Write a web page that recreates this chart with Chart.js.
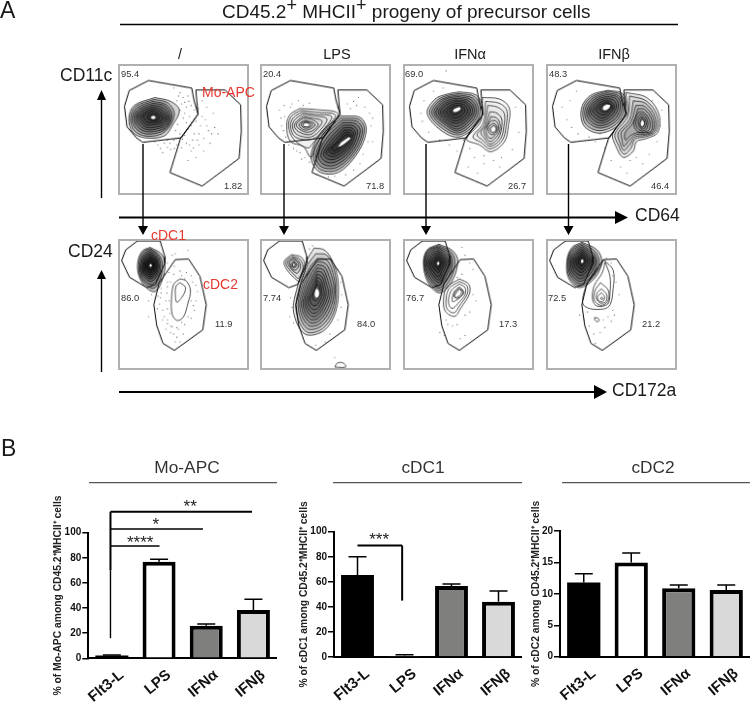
<!DOCTYPE html>
<html>
<head>
<meta charset="utf-8">
<script src="https://cdn.jsdelivr.net/npm/chart.js@4/dist/chart.umd.js"></script>
<style>
html, body { margin: 0; padding: 0; background: #fff; }
body { position: relative; width: 750px; height: 702px; overflow: hidden; font-family: "Liberation Sans", Arial, sans-serif; color: #1a1a1a; }
canvas { position: absolute; }
canvas.flow { border: 2px solid #b0b0b0; }
svg { position: absolute; left: 0; top: 0; pointer-events: none; }
.t { position: absolute; white-space: nowrap; line-height: 1; transform: translateY(-50%); }
.c { transform: translate(-50%, -50%); }
.stat { font-size: 9.3px; color: #333; }
.red { color: #e5392f; font-size: 14px; }
.big { font-size: 17.5px; }
.cond { font-size: 14.5px; }
.sec { font-size: 17.3px; color: #333; }
sup { font-size: 0.95em; line-height: 0; vertical-align: 0.38em; }
</style>
</head>
<body>

<canvas id="t1" class="flow" width="131" height="131" style="left:118px;top:64px"></canvas>
<canvas id="t2" class="flow" width="131" height="131" style="left:260px;top:64px"></canvas>
<canvas id="t3" class="flow" width="131" height="131" style="left:403px;top:64px"></canvas>
<canvas id="t4" class="flow" width="131" height="131" style="left:546px;top:64px"></canvas>
<canvas id="b1" class="flow" width="131" height="131" style="left:118px;top:239px"></canvas>
<canvas id="b2" class="flow" width="131" height="131" style="left:260px;top:239px"></canvas>
<canvas id="b3" class="flow" width="131" height="131" style="left:403px;top:239px"></canvas>
<canvas id="b4" class="flow" width="131" height="131" style="left:546px;top:239px"></canvas>

<canvas id="barMoApc" width="237" height="222" style="left:40px;top:480px"></canvas>
<canvas id="barCdc1" width="232" height="222" style="left:290px;top:480px"></canvas>
<canvas id="barCdc2" width="228" height="222" style="left:522px;top:480px"></canvas>

<svg width="750" height="702">
  <g stroke="#000" fill="none">
    <path d="M120 24.5H678" stroke-width="1.4"/>
    <path d="M119 217.5H616" stroke-width="2.2"/>
    <path d="M119 392H596" stroke-width="2"/>
    <path d="M101.5 198V100" stroke-width="1.4"/>
    <path d="M101.5 372V278" stroke-width="1.4"/>
    <path d="M143 144V228M284 144V228M426 144V228M568.5 144V228" stroke-width="1.4"/>
    <path d="M89 482.7H277M333 482.7H522M562 482.7H750" stroke="#555" stroke-width="1.2"/>
  </g>
  <g fill="#000">
    <path d="M615 211L628 217.5L615 224Z"/>
    <path d="M594 385L607 392L594 399Z"/>
    <path d="M97 100L101.5 90L106 100Z"/>
    <path d="M97 279L101.5 270L106 279Z"/>
    <path d="M138 226L143 235L148 226ZM279 226L284 235L289 226ZM421 226L426 235L431 226ZM563.5 226L568.5 235L573.5 226Z"/>
  </g>
</svg>

<div class="t" style="left:0;top:10px;font-size:23px">A</div>
<div class="t" style="left:222px;top:11px;font-size:19px">CD45.2<sup>+</sup> MHCII<sup>+</sup> progeny of precursor cells</div>
<div class="t c cond" style="left:180px;top:54px">/</div>
<div class="t c cond" style="left:337px;top:54px">LPS</div>
<div class="t c cond" style="left:470px;top:54px">IFNα</div>
<div class="t c cond" style="left:614px;top:54px">IFNβ</div>
<div class="t big" style="left:60px;top:76px">CD11c</div>
<div class="t big" style="left:68px;top:252px">CD24</div>
<div class="t big" style="left:635px;top:216px">CD64</div>
<div class="t big" style="left:612px;top:391px">CD172a</div>
<div class="t red" style="left:202px;top:92px">Mo-APC</div>
<div class="t red" style="left:151px;top:235px">cDC1</div>
<div class="t red" style="left:203px;top:284px">cDC2</div>

<div class="t stat" style="left:121px;top:75px">95.4</div>
<div class="t stat" style="left:263px;top:75px">20.4</div>
<div class="t stat" style="left:405px;top:75px">69.0</div>
<div class="t stat" style="left:549px;top:75px">48.3</div>
<div class="t stat" style="left:224px;top:187px">1.82</div>
<div class="t stat" style="left:366px;top:187px">71.8</div>
<div class="t stat" style="left:508px;top:187px">26.7</div>
<div class="t stat" style="left:651px;top:187px">46.4</div>
<div class="t stat" style="left:121px;top:299px">86.0</div>
<div class="t stat" style="left:263px;top:299px">7.74</div>
<div class="t stat" style="left:406px;top:299px">76.7</div>
<div class="t stat" style="left:548px;top:299px">72.5</div>
<div class="t stat" style="left:215px;top:325px">11.9</div>
<div class="t stat" style="left:357px;top:325px">84.0</div>
<div class="t stat" style="left:499px;top:325px">17.3</div>
<div class="t stat" style="left:642px;top:325px">21.2</div>

<div class="t" style="left:1px;top:448px;font-size:23px">B</div>
<div class="t c sec" style="left:187px;top:468px">Mo-APC</div>
<div class="t c sec" style="left:423px;top:468px">cDC1</div>
<div class="t c sec" style="left:653px;top:468px">cDC2</div>

<script>
// bar panels
const conditions = ['Flt3-L', 'LPS', 'IFNα', 'IFNβ'];
const barFills = ['#000000', '#ffffff', '#7f7f7d', '#d9d9d9'];
const moApcValues = [2.2, 76.8, 25.9, 38.5];
const moApcErrTop = [2.6, 78.8, 27.3, 47];
const cdc1Values = [65.4, 1, 56.7, 44];
const cdc1ErrTop = [80, 1.8, 58.3, 52.7];
const cdc2Values = [11.8, 15, 10.9, 10.6];
const cdc2ErrTop = [13.2, 16.5, 11.4, 11.4];
const moApcTicks = [0, 20, 40, 60, 80, 100];
const cdc1Ticks = [0, 20, 40, 60, 80, 100];
const cdc2Ticks = [0, 5, 10, 15, 20];

// [cat0, val0, cat1, val1, lineWidth]
const moApcBrackets = [
  [-0.03, 116.7, 2.97, 116.7, 2],
  [-0.03, 103, 1.93, 103, 1.6],
  [-0.03, 89.4, 1.01, 89.4, 1.6],
  [-0.03, 116.7, -0.03, 70, 2],
  [-0.03, 70, -0.03, 16, 1.4]
];
const cdc1Brackets = [
  [0, 89, 0.95, 89, 2],
  [0.95, 89, 0.95, 45, 2]
];
const moApcStars = [[1.66, 120.5, '**'], [0.93, 106, '*'], [0.6, 91.5, '****']];
const cdc1Stars = [[0.46, 93.5, '***']];

// flow gates, shared by the panels of one row, units
const gateCd11cHigh = [90,46, 227,70, 234,108, 247,153, 194,228, 72,242, 52,228, 22,193, 14,128, 29,78];
const gateCd64High = [240,76, 332,76, 382,123, 384,208, 377,293, 260,381, 158,338, 192,228, 247,153];
const gateCd24High = [55,0, 127,0, 142,50, 142,70, 112,138, 85,148, 30,115, 5,62, 18,28];
const gateCd172High = [175,59, 217,57, 253,112, 273,202, 262,282, 172,347, 136,325, 116,268, 107,202, 123,135];

// contours, outer to inner
const ringsCtrlTop = [
  [110,100, 160,112, 188,140, 165,190, 140,222, 80,228, 40,210, 28,165, 45,125],
  [108,106, 150,116, 172,150, 155,195, 125,218, 80,222, 45,205, 33,165, 50,128],
  [105,112, 145,122, 165,155, 150,195, 120,212, 80,215, 50,198, 38,165, 55,132],
  [105,118, 140,126, 160,158, 148,192, 118,206, 82,208, 55,192, 44,163, 60,136],
  [105,124, 135,132, 155,160, 145,188, 115,200, 85,202, 60,186, 50,162, 65,140],
  [104,130, 130,138, 150,162, 140,184, 112,194, 85,195, 66,180, 56,160, 70,144],
  [103,136, 125,144, 145,164, 133,180, 108,186, 85,187, 72,175, 64,160, 76,148],
  [102,142, 120,150, 137,165, 125,176, 105,179, 88,179, 78,170, 72,158, 82,152],
  [103,150, 115,155, 125,165, 115,172, 102,173, 92,170, 86,163, 90,156]
];
const coresCtrlTop = [[105,158, 112,161, 110,167, 102,168, 98,163]];
const ringsLpsTopLeft = [
  [118,135, 170,138, 240,150, 215,190, 170,250, 155,290, 130,255, 90,240, 78,190, 88,155],
  [122,141, 170,146, 232,155, 208,192, 165,240, 145,260, 100,232, 84,190, 94,158],
  [125,147, 168,153, 220,160, 200,195, 160,232, 105,225, 90,190, 100,163],
  [128,153, 165,158, 205,167, 190,197, 155,225, 110,217, 96,190, 106,168],
  [130,160, 160,165, 190,175, 175,200, 150,218, 115,208, 102,190, 112,173],
  [132,165, 158,170, 178,185, 162,204, 140,210, 118,200, 108,188, 116,175],
  [135,172, 155,177, 168,187, 152,200, 135,203, 120,194, 118,183],
  [138,176, 152,180, 160,187, 148,196, 132,196, 124,188, 126,180],
  [140,179, 150,183, 152,190, 140,193, 130,190, 130,183]
];
const ringsLpsTopRight = [
  [250,158, 312,164, 330,205, 300,280, 240,338, 180,335, 155,285, 188,210],
  [250,165, 308,170, 324,205, 295,278, 238,330, 184,328, 163,285, 194,215],
  [252,172, 302,176, 318,207, 290,275, 236,322, 188,320, 170,285, 200,220],
  [254,180, 296,183, 311,208, 285,272, 234,314, 194,312, 178,283, 207,225],
  [256,188, 290,190, 303,210, 280,268, 232,305, 200,303, 186,281, 214,230],
  [258,196, 285,197, 296,212, 275,264, 230,296, 206,294, 194,278, 221,234],
  [260,203, 281,204, 290,215, 270,260, 228,288, 212,285, 202,274, 228,238],
  [262,210, 278,211, 284,220, 264,256, 227,279, 217,276, 211,268, 235,242],
  [264,218, 276,218, 278,226, 258,252, 228,270, 222,266, 222,258, 242,240]
];
const coresLpsTop = [[140,182, 148,185, 146,190, 136,190, 132,186], [250,243, 276,226, 280,230, 256,250, 242,256]];
const ringsIfnaTopLeft = [
  [172,82, 225,92, 245,130, 232,180, 172,225, 115,205, 70,150, 95,105, 130,90],
  [172,87, 220,97, 238,132, 226,178, 172,218, 118,198, 78,150, 100,110, 132,94],
  [170,92, 214,102, 232,134, 220,175, 170,212, 122,192, 85,150, 104,114, 135,98],
  [168,97, 208,106, 226,136, 214,172, 168,206, 126,186, 92,150, 108,118, 136,102],
  [168,102, 202,110, 220,138, 208,169, 166,200, 128,181, 98,150, 112,122, 138,107],
  [166,107, 197,114, 214,139, 202,166, 164,192, 130,176, 105,148, 117,126, 140,112],
  [165,112, 193,118, 207,140, 196,163, 162,183, 133,170, 112,148, 122,130, 143,117],
  [165,118, 188,123, 199,141, 189,160, 160,175, 137,164, 120,147, 130,134, 148,122],
  [165,124, 182,128, 190,141, 180,156, 158,166, 142,158, 130,146, 140,134, 152,128],
  [165,130, 176,132, 180,140, 170,150, 156,155, 146,150, 142,144, 150,136]
];
const ringsIfnaTopRight = [
  [245,100, 300,105, 330,133, 327,190, 315,240, 272,272, 235,250, 195,232, 240,175],
  [255,112, 298,118, 322,140, 320,190, 308,236, 270,263, 240,242, 215,225, 248,180],
  [262,125, 292,130, 314,150, 313,192, 302,232, 270,255, 245,235, 228,218, 252,185],
  [268,145, 288,148, 305,165, 306,195, 296,228, 270,248, 250,228, 240,210, 256,188],
  [272,160, 290,165, 300,180, 300,205, 290,224, 270,240, 254,222, 250,205, 262,185],
  [275,172, 290,176, 296,190, 294,208, 285,220, 270,230, 258,216, 258,200, 266,182],
  [278,182, 288,186, 292,198, 288,210, 278,218, 268,214, 263,200, 270,188],
  [280,188, 288,193, 288,204, 280,212, 272,208, 270,198]
];
const coresIfnaTop = [[160,134, 172,130, 176,136, 166,144, 156,146, 152,140], [280,193, 285,198, 283,206, 277,207, 274,200]];
const ringsIfnbTopLeft = [
  [190,77, 236,88, 246,138, 222,188, 165,213, 118,195, 104,158, 112,118, 140,90],
  [188,80, 232,92, 240,138, 216,184, 165,205, 122,188, 110,155, 118,118, 144,94],
  [186,85, 226,96, 234,138, 212,178, 165,197, 128,180, 116,152, 124,120, 148,98],
  [186,90, 222,100, 228,136, 208,172, 165,190, 134,174, 122,150, 130,122, 152,102],
  [186,96, 216,104, 222,134, 202,166, 168,182, 140,168, 128,148, 136,124, 156,106],
  [186,102, 210,110, 216,132, 198,160, 170,174, 146,162, 134,146, 142,126, 160,110],
  [186,108, 204,116, 210,132, 194,154, 172,166, 152,156, 142,144, 150,128, 166,114],
  [186,113, 200,121, 205,132, 192,148, 174,156, 160,150, 152,140, 158,128, 172,118],
  [186,117, 198,124, 200,132, 190,142, 176,146, 168,142, 164,134, 172,124]
];
const ringsIfnbTopRight = [
  [246,84, 312,100, 350,150, 348,210, 312,230, 280,240, 270,270, 238,290, 215,255, 205,215, 250,150],
  [258,95, 310,110, 344,155, 342,208, 310,224, 276,232, 262,262, 240,280, 222,250, 212,215, 252,160],
  [270,110, 308,118, 338,160, 337,206, 308,220, 276,225, 258,250, 240,268, 228,245, 222,212, 258,170],
  [278,125, 306,128, 333,165, 332,205, 308,216, 278,218, 255,238, 240,255, 234,235, 232,210, 262,178],
  [285,135, 306,138, 328,170, 327,205, 306,212, 280,212, 260,222, 245,235, 244,212, 268,182],
  [288,145, 305,148, 322,175, 320,202, 305,210, 284,208, 272,190, 276,165],
  [292,152, 305,156, 316,178, 312,200, 302,206, 288,202, 278,185, 282,165],
  [294,160, 304,164, 311,180, 306,197, 297,200, 288,190, 286,172],
  [296,166, 303,170, 306,182, 302,192, 295,194, 291,182]
];
const coresIfnbTop = [[186,122, 196,124, 194,132, 182,140, 174,138, 176,128], [298,172, 303,178, 302,188, 296,190, 294,180]];

const ringsCtrlBottomLeft = [
  [95,20, 130,40, 142,70, 135,120, 112,160, 85,150, 60,112, 56,68, 70,32],
  [95,24, 122,42, 134,72, 128,118, 108,150, 86,142, 63,110, 60,68, 73,35],
  [96,28, 118,44, 128,74, 122,112, 102,138, 84,132, 66,108, 64,70, 76,40],
  [96,34, 114,48, 124,76, 118,108, 100,128, 84,122, 69,104, 67,72, 78,45],
  [96,40, 112,52, 120,76, 115,104, 98,120, 84,114, 72,100, 71,74, 80,50],
  [96,46, 110,56, 117,76, 112,100, 97,114, 85,108, 75,98, 74,76, 82,56],
  [97,52, 108,60, 114,77, 109,96, 97,107, 86,102, 78,94, 77,76, 85,60],
  [97,58, 106,64, 110,77, 106,92, 97,100, 88,96, 81,90, 81,76, 87,64],
  [97,64, 104,69, 106,78, 103,88, 97,93, 90,90, 85,84, 86,74, 90,68]
];
const ringsCtrlBottomRight = [
  [190,120, 210,127, 223,157, 215,197, 200,242, 180,252, 165,232, 163,182, 170,137],
  [190,132, 207,147, 200,172, 180,194, 175,167, 178,142]
];
const coresCtrlBottom = [[97,72, 100,75, 100,80, 96,82, 93,78]];
const ringsLpsBottomLeft = [
  [93,43, 125,52, 137,85, 120,128, 100,115, 78,90, 70,65],
  [95,48, 120,58, 130,85, 115,118, 100,105, 82,85, 76,65],
  [98,53, 115,62, 122,82, 112,102, 98,95, 86,80, 82,65],
  [99,58, 112,65, 116,80, 106,92, 95,88, 89,76, 87,66],
  [100,64, 108,70, 110,78, 103,84, 95,82, 92,74],
  [100,68, 105,72, 105,78, 100,81, 96,77]
];
const ringsLpsBottomRight = [
  [165,22, 200,30, 230,80, 242,145, 233,225, 195,285, 135,295, 100,225, 112,145, 140,65],
  [170,40, 205,45, 228,90, 236,150, 228,222, 192,278, 140,288, 108,222, 118,148, 145,75],
  [175,55, 205,60, 224,100, 232,155, 222,220, 188,270, 143,278, 115,218, 124,150, 150,85],
  [175,65, 202,72, 220,110, 228,158, 216,216, 184,262, 147,268, 120,214, 129,152, 153,93],
  [175,75, 198,82, 214,118, 222,160, 210,212, 180,254, 150,258, 125,210, 134,155, 156,102],
  [175,85, 195,92, 208,125, 216,162, 204,208, 178,245, 152,248, 130,206, 139,158, 160,110],
  [175,95, 192,102, 203,132, 210,165, 198,204, 176,236, 155,238, 135,202, 144,160, 163,118],
  [175,105, 189,112, 198,138, 203,168, 193,200, 175,226, 157,228, 140,198, 150,162, 166,126],
  [175,115, 186,122, 193,144, 197,170, 188,195, 174,216, 158,216, 146,192, 155,164, 168,134],
  [175,125, 183,132, 188,150, 190,172, 182,190, 172,204, 160,204, 152,186, 160,166, 170,142],
  [175,135, 181,142, 184,156, 184,172, 176,184, 170,190, 162,186, 160,176, 165,160, 170,148]
];
const ringLpsBottomSpeck = [[231,400, 236,389, 248,385, 260,389, 265,400]];
const coresLpsBottom = [[100,72, 103,75, 101,78, 98,76], [172,150, 179,158, 180,172, 173,180, 167,172, 168,160]];
const ringsIfnaBottomLeft = [
  [107,10, 150,30, 167,62, 150,125, 110,165, 72,130, 58,70, 70,28],
  [107,14, 145,34, 158,66, 143,122, 108,158, 74,124, 60,70, 72,30],
  [106,18, 140,38, 150,70, 136,118, 107,150, 76,118, 62,70, 74,32],
  [106,22, 134,42, 144,70, 130,112, 106,142, 78,112, 65,70, 77,36],
  [106,28, 128,46, 138,70, 124,106, 106,132, 81,106, 69,70, 80,42],
  [106,34, 124,50, 132,70, 120,100, 106,124, 84,100, 73,70, 84,48],
  [106,40, 120,54, 126,70, 116,94, 106,114, 87,94, 78,70, 88,54],
  [106,48, 116,58, 120,70, 112,88, 106,100, 92,88, 84,70, 92,58],
  [106,56, 112,62, 114,71, 108,82, 105,90, 97,82, 92,70, 98,60]
];
const ringsIfnaBottomRight = [
  [172,120, 202,137, 204,167, 177,212, 157,239, 127,222, 122,182, 132,147],
  [172,128, 196,142, 197,168, 172,206, 155,228, 133,215, 130,182, 140,150],
  [172,136, 190,148, 190,170, 168,198, 150,214, 140,205, 138,182, 148,155],
  [172,145, 182,155, 182,170, 162,188, 150,192, 150,178, 156,160],
  [172,150, 178,158, 176,170, 160,180, 155,175, 160,160],
  [172,152, 187,162, 167,182, 157,174]
];
const coresIfnaBottom = [[105,65, 108,68, 108,73, 104,76, 101,71]];
const ringsIfnbBottomLeft = [
  [108,4, 155,28, 170,65, 150,115, 100,148, 65,118, 60,60, 76,20],
  [108,8, 148,32, 162,66, 145,112, 100,142, 67,112, 62,60, 78,24],
  [108,13, 142,36, 155,66, 140,108, 102,136, 70,107, 65,60, 80,28],
  [108,18, 138,40, 150,66, 135,103, 102,128, 73,102, 69,60, 84,33],
  [108,24, 133,44, 144,66, 130,98, 103,120, 77,97, 73,60, 88,38],
  [108,30, 129,48, 138,66, 126,92, 104,110, 81,90, 78,60, 91,43],
  [108,36, 125,52, 132,66, 121,86, 105,100, 86,84, 83,60, 95,48],
  [108,42, 120,56, 125,66, 116,80, 106,90, 92,78, 89,60, 99,52],
  [108,50, 116,58, 118,66, 112,74, 106,80, 98,72, 96,60, 102,54]
];
const ringsIfnbBottomRight = [
  [176,60, 206,92, 206,152, 193,207, 151,217, 116,207, 109,187, 126,132, 166,82],
  [181,67, 196,112, 196,167, 189,200, 156,207, 141,187, 146,142, 171,102],
  [166,132, 191,157, 189,192, 166,204, 146,187, 149,157],
  [169,152, 186,170, 183,192, 166,197, 153,182, 156,164],
  [169,164, 179,177, 173,192, 161,190, 157,177],
  [170,178, 174,182, 170,186, 166,182],
  [147,243, 158,245, 162,252, 155,256, 148,250]
];
const coresIfnbBottom = [[108,58, 112,62, 111,68, 107,70, 104,64]];

// stray events
const dotsCtrlTop = [170,70, 190,85, 200,100, 215,95, 180,110, 195,120, 210,130, 225,125, 205,150, 220,160, 235,140, 240,175, 255,190, 270,170, 280,205, 250,215, 265,230, 230,235, 210,245, 195,260, 180,250, 160,265, 140,245, 120,250, 135,275, 225,270, 240,290, 215,300, 250,250, 285,245, 300,195, 310,215, 275,130, 260,110, 295,150, 190,215, 170,235, 150,235, 215,200, 235,215, 185,95, 205,115, 218,112, 190,140, 200,165, 182,185, 176,205, 210,180, 225,190, 198,232, 158,245, 172,262, 205,220, 260,160, 248,135, 275,190, 290,215, 245,235, 220,250, 265,270, 232,260, 150,258, 128,262, 110,240];
const dotsLpsTop = [70,125, 95,120, 115,110, 150,118, 60,165, 62,190, 75,225, 100,262, 120,275, 135,290, 150,305, 165,320, 340,150, 345,190, 325,130, 300,125, 280,135, 350,240, 320,280, 290,330, 230,350, 210,352, 270,120, 305,100, 55,140, 85,250, 72,160, 68,205, 90,130, 130,125, 110,270, 145,280, 125,295, 175,345, 265,345, 310,310, 335,240, 350,165, 290,112, 240,130];
const dotsIfnaTop = [130,15, 60,110, 50,150, 55,175, 75,210, 110,235, 140,250, 165,270, 205,262, 220,290, 250,310, 280,300, 200,320, 230,340, 305,290, 340,265, 360,210, 350,130, 90,80, 120,70, 185,235, 250,285, 300,320];
const dotsIfnbTop = [45,130, 60,170, 75,195, 95,215, 130,225, 150,240, 180,260, 190,240, 230,320, 260,300, 280,290, 250,340, 300,310, 320,280, 345,240, 355,190, 360,140, 330,110, 90,80, 70,110, 200,300, 165,215];
const dotsCtrlBottom = [130,150, 120,175, 100,170, 90,190, 150,145, 130,120, 165,45, 175,40, 215,30, 150,70, 125,200, 135,220, 140,240, 150,262, 165,272, 180,275, 195,258, 215,240, 235,220, 240,190, 245,160, 230,130, 210,100, 190,95, 170,105, 150,130, 130,165, 145,190, 150,215, 160,290, 180,305, 190,320, 150,250, 225,190, 90,240, 155,100, 160,130, 148,165, 155,190, 158,230, 135,250, 145,280, 170,295, 185,280, 205,265, 225,245, 232,205, 240,140, 225,110, 205,120, 195,110, 172,80, 128,180, 118,215, 175,320, 200,295, 160,270];
const dotsLpsBottom = [90,180, 95,210, 88,240, 100,260, 240,90, 250,130, 252,170, 250,210, 240,250, 215,295, 200,320, 170,330, 230,370, 150,25, 160,15];
const dotsIfnaBottom = [180,20, 190,45, 205,70, 215,90, 180,105, 165,115, 215,170, 225,190, 205,225, 190,235, 130,250, 135,265, 150,270, 165,265, 110,290, 125,300, 175,310, 190,300];
const dotsIfnbBottom = [185,55, 200,70, 205,110, 215,130, 225,170, 205,220, 190,240, 175,250, 180,275, 165,290, 145,295, 130,270, 115,250, 100,235, 200,255, 210,235, 150,325, 125,225];

const flatToPoints = (flat, closed) => {
    let pts = [];
    for (let i = 0; i < flat.length; i += 2) {
        pts.push({x: flat[i], y: flat[i + 1]});
    }
    if (closed) pts.push({x: flat[0], y: flat[1]});
    return pts;
};

function flowChart(id, gates, blobs, cores, dots) {
    let datasets = [];
    let order = 2000;
    datasets.push({data: flatToPoints(dots), showLine: false, pointRadius: 0.6, pointBackgroundColor: '#555', pointBorderWidth: 0, order: order--});
    blobs.forEach(([rings, shade]) => {
        rings.forEach(ring => {
            datasets.push({
                data: flatToPoints(ring, true), showLine: true, pointRadius: 0, borderColor: '#000', borderWidth: 0.7,
                tension: 0.35, fill: shade ? 'shape' : false, backgroundColor: 'rgba(0,0,0,' + shade + ')', order: order--
            });
        });
    });
    cores.forEach(core => {
        datasets.push({data: flatToPoints(core, true), showLine: true, pointRadius: 0, borderWidth: 0, tension: 0.35, fill: 'shape', backgroundColor: '#fff', order: order--});
    });
    gates.forEach(gate => {
        datasets.push({data: flatToPoints(gate, true), showLine: true, pointRadius: 0, borderColor: '#000', borderWidth: 1, tension: 0, fill: false, order: order--});
    });
    return new Chart(document.getElementById(id), {
        type: 'scatter',
        data: {datasets: datasets},
        options: {
            responsive: false,
            animation: false,
            events: [],
            layout: {padding: 0, autoPadding: false},
            plugins: {legend: {display: false}, tooltip: {enabled: false}},
            scales: {
                x: {type: 'linear', min: 0, max: 402, display: false},
                y: {type: 'linear', min: 0, max: 403, reverse: true, display: false}
            }
        }
    });
}

const topGates = [gateCd11cHigh, gateCd64High];
const bottomGates = [gateCd24High, gateCd172High];
flowChart('t1', topGates, [[ringsCtrlTop, 0.17]], coresCtrlTop, dotsCtrlTop);
flowChart('t2', topGates, [[ringsLpsTopLeft, 0.03], [ringsLpsTopRight, 0.17]], coresLpsTop, dotsLpsTop);
flowChart('t3', topGates, [[ringsIfnaTopRight, 0.03], [ringsIfnaTopLeft, 0.15]], coresIfnaTop, dotsIfnaTop);
flowChart('t4', topGates, [[ringsIfnbTopRight, 0.08], [ringsIfnbTopLeft, 0.15]], coresIfnbTop, dotsIfnbTop);
flowChart('b1', bottomGates, [[ringsCtrlBottomRight, 0], [ringsCtrlBottomLeft, 0.22]], coresCtrlBottom, dotsCtrlBottom);
flowChart('b2', bottomGates, [[ringLpsBottomSpeck, 0], [ringsLpsBottomLeft, 0.07], [ringsLpsBottomRight, 0.1]], coresLpsBottom, dotsLpsBottom);
flowChart('b3', bottomGates, [[ringsIfnaBottomRight, 0], [ringsIfnaBottomLeft, 0.18]], coresIfnaBottom, dotsIfnaBottom);
flowChart('b4', bottomGates, [[ringsIfnbBottomRight, 0], [ringsIfnbBottomLeft, 0.18]], coresIfnbBottom, dotsIfnbBottom);

// error bars, brackets and stars go through the chart's own scales
function barMarks(errTop, brackets, stars) {
    return {
        id: 'barMarks',
        afterDatasetsDraw(chart) {
            const {ctx, scales: {x, y}} = chart;
            const values = chart.data.datasets[0].data;
            ctx.save();
            ctx.strokeStyle = '#000';
            ctx.lineWidth = 1.5;
            errTop.forEach((top, i) => {
                const px = x.getPixelForValue(i);
                ctx.beginPath();
                ctx.moveTo(px, y.getPixelForValue(values[i]));
                ctx.lineTo(px, y.getPixelForValue(top));
                ctx.moveTo(px - 9, y.getPixelForValue(top));
                ctx.lineTo(px + 9, y.getPixelForValue(top));
                ctx.stroke();
            });
            brackets.forEach(([c0, v0, c1, v1, w]) => {
                ctx.lineWidth = w;
                ctx.beginPath();
                ctx.moveTo(x.getPixelForValue(c0), y.getPixelForValue(v0));
                ctx.lineTo(x.getPixelForValue(c1), y.getPixelForValue(v1));
                ctx.stroke();
            });
            ctx.fillStyle = '#222';
            ctx.font = '17px "Liberation Sans"';
            ctx.textAlign = 'center';
            ctx.textBaseline = 'middle';
            stars.forEach(([c, v, text]) => {
                ctx.fillText(text, x.getPixelForValue(c), y.getPixelForValue(v));
            });
            ctx.restore();
        }
    };
}

function barChart(id, values, borders, errTop, ticks, max, title, sizes, brackets, stars) {
    return new Chart(document.getElementById(id), {
        type: 'bar',
        data: {
            labels: conditions,
            datasets: [{
                data: values,
                backgroundColor: barFills,
                borderColor: borders,
                borderWidth: [0, 4, 4, 4],
                borderSkipped: 'bottom',
                barPercentage: 0.7,
                categoryPercentage: 1
            }]
        },
        options: {
            responsive: false,
            animation: false,
            events: [],
            layout: {padding: {top: sizes.top}},
            plugins: {legend: {display: false}, tooltip: {enabled: false}},
            scales: {
                x: {
                    grid: {display: false},
                    border: {color: '#000', width: 2},
                    afterFit(scale) { scale.height = sizes.bottom; },
                    ticks: {
                        autoSkip: false, minRotation: 40, maxRotation: 40, padding: 0, labelOffset: 10,
                        color: '#111', font: {family: 'Liberation Sans', size: 15, weight: 'bold'}
                    }
                },
                y: {
                    min: 0,
                    max: max,
                    afterFit(scale) { scale.width = sizes.left; },
                    afterBuildTicks(scale) { scale.ticks = ticks.map(v => ({value: v})); },
                    grid: {drawOnChartArea: false, color: '#000', lineWidth: 1.5, tickLength: 6},
                    border: {color: '#000', width: 2},
                    ticks: {padding: 1, color: '#111', font: {family: 'Liberation Sans', size: 10, weight: 'bold'}},
                    title: {
                        display: true, text: title, color: '#222',
                        padding: {top: sizes.titleTop, bottom: 0},
                        font: {family: 'Liberation Sans', size: 10.3, weight: 'bold'}
                    }
                }
            }
        },
        plugins: [barMarks(errTop, brackets, stars)]
    });
}

const blackBorders = ['#000', '#000', '#000', '#000'];
barChart('barMoApc', moApcValues, blackBorders, moApcErrTop, moApcTicks, 100,
    '% of Mo-APC among CD45.2⁺MHCII⁺ cells', {left: 48.3, top: 52.7, bottom: 43.7, titleTop: 12}, moApcBrackets, moApcStars);
barChart('barCdc1', cdc1Values, ['#000', '#c8c8c8', '#000', '#000'], cdc1ErrTop, cdc1Ticks, 100,
    '% of cDC1 among CD45.2⁺MHCII⁺ cells', {left: 44, top: 51.7, bottom: 45, titleTop: 8}, cdc1Brackets, cdc1Stars);
barChart('barCdc2', cdc2Values, blackBorders, cdc2ErrTop, cdc2Ticks, 20,
    '% of cDC2 among CD45.2⁺MHCII⁺ cells', {left: 38, top: 51, bottom: 45.3, titleTop: 8}, [], []);
</script>
</body>
</html>
